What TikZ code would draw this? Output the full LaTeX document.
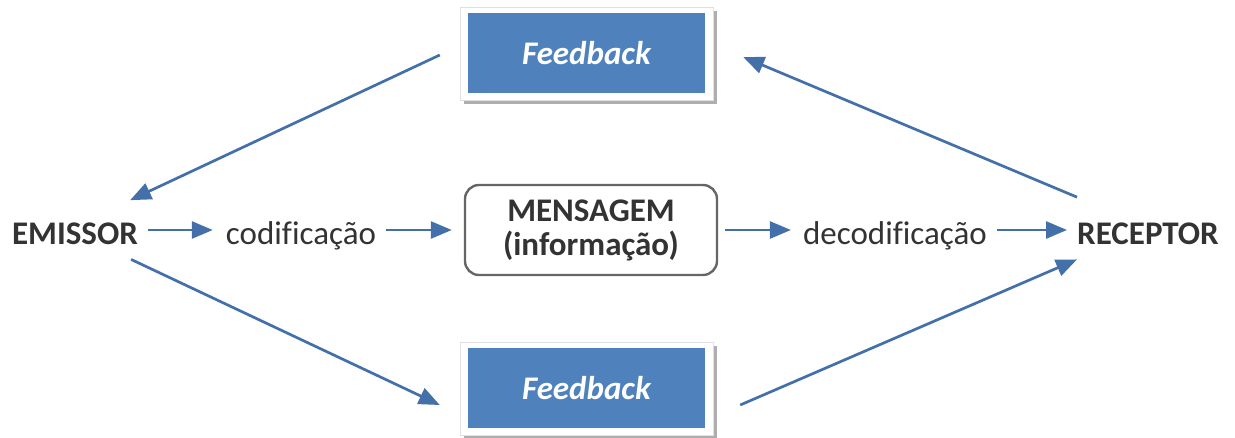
\documentclass[tikz,border=0pt]{standalone}
\usepackage{fontspec}
\setmainfont{Carlito}[Ligatures=NoCommon]
\usetikzlibrary{arrows.meta,shadows,backgrounds}
\definecolor{fbblue}{HTML}{4F81BD}
\definecolor{arrowblue}{HTML}{4470AA}
\definecolor{txt}{HTML}{333333}
\definecolor{boxline}{HTML}{666666}
\begin{document}
\begin{tikzpicture}[x=1pt,y=-1pt,
  word/.style={font=\fontsize{33}{36}\selectfont, text=txt, inner sep=0pt, anchor=base},
  term/.style={word, font=\fontsize{33}{36}\selectfont\bfseries},
  msgbox/.style={draw=boxline, line width=2.4pt, rounded corners=14pt, fill=white,
    minimum width=252pt, minimum height=90pt, align=center, text=txt,
    font=\fontsize{33}{34}\selectfont\bfseries, inner sep=0pt},
  fbbox/.style={fill=fbblue, minimum width=237pt, minimum height=80pt, inner sep=0pt,
    text=white, font=\fontsize{33}{36}\selectfont\bfseries\itshape},
  fbframe/.style={fill=white, draw=black!12, line width=0.6pt,
    drop shadow={shadow xshift=4pt, shadow yshift=-4pt, opacity=0.45, fill=black!70}},
  arr/.style={draw=arrowblue, line width=2.7pt,
    -{Triangle[length=21pt, width=17pt]}, arrowblue}
]
\useasboundingbox (0,0) rectangle (1235,437);

% text terms along the middle row
\node[term] (emissor)  at (75,244)  {EMISSOR};
\node[word] (codif)    at (301,244) {codificação};
\node[msgbox] (msg)    at (591,230) {MENSAGEM\\(informação)};
\node[word] (decodif)  at (895,244) {decodificação};
\node[term] (receptor) at (1148,244) {RECEPTOR};

% feedback boxes
\node[fbbox] (fbtop) at (586.5,53)  {Feedback};
\node[fbbox] (fbbot) at (586.5,388) {Feedback};

% white shadowed frames behind the feedback boxes
\begin{scope}[on background layer]
  \path[fbframe] ([shift={(-8,7)}]fbtop.south west) rectangle ([shift={(8,-6)}]fbtop.north east);
  \path[fbframe] ([shift={(-8,7)}]fbbot.south west) rectangle ([shift={(8,-6)}]fbbot.north east);
\end{scope}

% main flow
\draw[arr, shorten <=10pt, shorten >=13pt] (emissor.east |- msg.center) -- (codif.west |- msg.center);
\draw[arr, shorten <=10pt, shorten >=12pt] (codif.east |- msg.center) -- (msg.west);
\draw[arr, shorten <=7pt, shorten >=12pt] (msg.east) -- (decodif.west |- msg.center);
\draw[arr, shorten <=10pt, shorten >=10pt] (decodif.east |- msg.center) -- (receptor.west |- msg.center);

% feedback loops
\draw[arr] ([shift={(-28,2)}]fbtop.west) -- ([shift={(-8,-22)}]emissor.north east);
\draw[arr] ([shift={(-7,15)}]emissor.south east) -- ([shift={(-28,17)}]fbbot.west);
\draw[arr] ([shift={(35,17)}]fbbot.east) -- ([shift={(0,15)}]receptor.south west);
\draw[arr] ([shift={(0,-25)}]receptor.north west) -- ([shift={(38,4)}]fbtop.east);
\end{tikzpicture}
\end{document}
